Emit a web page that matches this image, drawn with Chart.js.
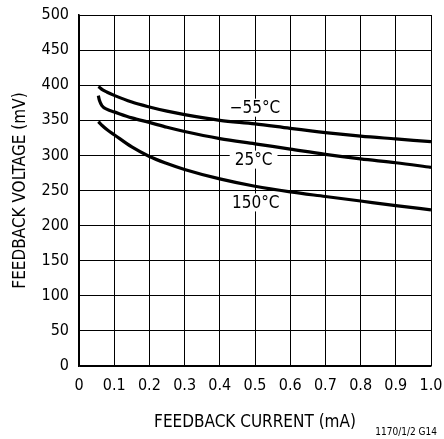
<!DOCTYPE html>
<html>
<head>
<meta charset="utf-8">
<script src="https://cdn.jsdelivr.net/npm/chart.js@4.4.1/dist/chart.umd.min.js"></script>
<style>
  html, body { margin: 0; padding: 0; background: #fff; }
  #wrap { width: 444px; height: 439px; }
</style>
</head>
<body>
<div id="wrap"><canvas id="fbChart" width="444" height="439"></canvas></div>
<script>
// feedback current (mA) and feedback voltage (mV)
const current = [0.055, 0.058, 0.065, 0.08, 0.1, 0.15, 0.2, 0.25, 0.3, 0.4, 0.5, 0.6, 0.7, 0.8, 0.9, 1.0];
const vMinus55 = [398, 397, 394, 390, 385.5, 376, 369, 363, 358, 350, 345, 338.5, 332.5, 327.5, 323.5, 319.5];
const v25 = [385, 378.5, 371, 365.5, 362, 353.5, 347, 340, 334, 324, 316.5, 309, 301.5, 295, 289.5, 283];
const v150 = [348, 346.5, 343, 336.5, 329.5, 312, 298.5, 288.5, 280, 266.5, 256, 248, 241.5, 235, 228.5, 222.5];

const seriesNames = ['\u221255\u00B0C', '25\u00B0C', '150\u00B0C'];
// where each curve label sits (x in mA, y in mV)
const labelX = [0.5, 0.496, 0.502];
const labelY = [368, 294, 233];

const xTickLabels = ['0', '0.1', '0.2', '0.3', '0.4', '0.5', '0.6', '0.7', '0.8', '0.9', '1.0'];
const yTickLabels = ['0', '50', '100', '150', '200', '250', '300', '350', '400', '450', '500'];

const FONT = '"Liberation Sans Narrow", "DejaVu Sans Condensed", sans-serif';

function toPoints(xs, ys) {
  return xs.map((x, i) => ({ x: x, y: ys[i] }));
}

const curveLabels = {
  id: 'curveLabels',
  afterDatasetsDraw(chart) {
    const ctx = chart.ctx;
    const xs = chart.scales.x, ys = chart.scales.y;
    ctx.save();
    ctx.font = '17px ' + FONT;
    ctx.textAlign = 'center';
    ctx.textBaseline = 'middle';
    seriesNames.forEach((name, i) => {
      const px = xs.getPixelForValue(labelX[i]);
      const py = ys.getPixelForValue(labelY[i]);
      const w = ctx.measureText(name).width;
      ctx.fillStyle = '#fff';
      ctx.fillRect(px - w / 2 - 5, py - 9, w + 10, 18);
      ctx.fillStyle = '#000';
      ctx.fillText(name, px, py + 1);
    });
    // figure number, bottom right
    ctx.font = '10px ' + FONT;
    ctx.textAlign = 'right';
    ctx.fillText('1170/1/2 G14', 437, 432);
    ctx.restore();
  }
};

const lineStyle = {
  showLine: true,
  borderColor: '#000',
  borderWidth: 3.2,
  pointRadius: 0,
  fill: false,
  cubicInterpolationMode: 'monotone'
};

new Chart(document.getElementById('fbChart').getContext('2d'), {
  type: 'scatter',
  data: {
    datasets: [
      Object.assign({ label: seriesNames[0], data: toPoints(current, vMinus55) }, lineStyle),
      Object.assign({ label: seriesNames[1], data: toPoints(current, v25) }, lineStyle),
      Object.assign({ label: seriesNames[2], data: toPoints(current, v150) }, lineStyle)
    ]
  },
  options: {
    responsive: false,
    animation: false,
    layout: { padding: { top: 15, right: 13, left: 0, bottom: 0 } },
    plugins: {
      legend: { display: false },
      tooltip: { enabled: false }
    },
    scales: {
      x: {
        type: 'linear',
        min: 0,
        max: 1,
        afterFit(scale) {
          scale.height = 73;
          scale.paddingLeft = 0;
          scale.paddingRight = 0;
        },
        afterBuildTicks(scale) {
          scale.ticks = xTickLabels.map(t => ({ value: parseFloat(t) }));
        },
        ticks: {
          color: '#000',
          padding: 10,
          font: { family: FONT, size: 16 },
          callback: (v, i) => xTickLabels[i],
          maxRotation: 0,
          autoSkip: false
        },
        grid: { color: '#000', lineWidth: 1, drawTicks: false },
        border: { color: '#000', width: 1.6 },
        title: {
          display: true,
          text: 'FEEDBACK CURRENT (mA)',
          color: '#000',
          font: { family: FONT, size: 17 },
          padding: { top: 0, bottom: 6 }
        }
      },
      y: {
        min: 0,
        max: 500,
        afterFit(scale) {
          scale.width = 79;
          scale.paddingTop = 0;
          scale.paddingBottom = 0;
        },
        afterBuildTicks(scale) {
          scale.ticks = yTickLabels.map(t => ({ value: Number(t) }));
        },
        ticks: {
          color: '#000',
          padding: 10,
          font: { family: FONT, size: 16 },
          callback: (v, i) => yTickLabels[i],
          autoSkip: false
        },
        grid: { color: '#000', lineWidth: 1, drawTicks: false },
        border: { color: '#000', width: 1.6 },
        title: {
          display: true,
          text: 'FEEDBACK VOLTAGE (mV)',
          color: '#000',
          font: { family: FONT, size: 17 },
          padding: { top: 10, bottom: 0 }
        }
      }
    }
  },
  plugins: [curveLabels]
});
</script>
</body>
</html>
